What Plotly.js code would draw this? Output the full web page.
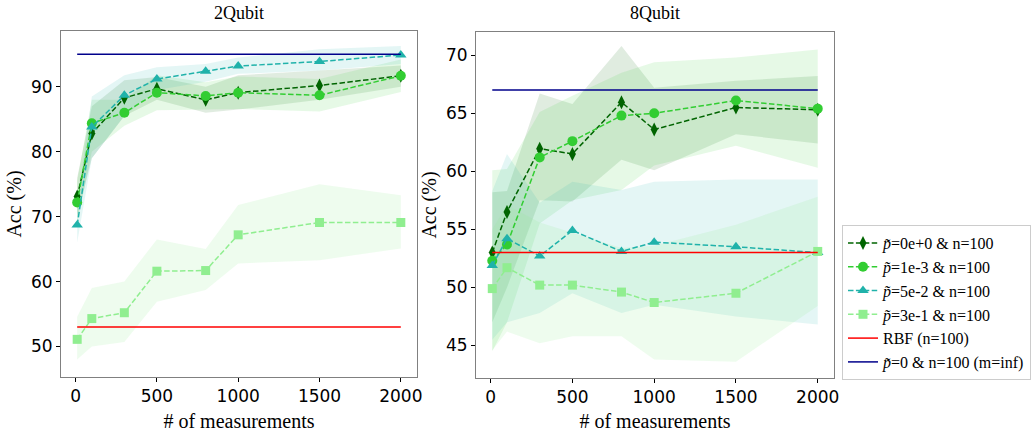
<!DOCTYPE html>
<html>
<head>
<meta charset="utf-8">
<script src="https://cdn.plot.ly/plotly-3.0.1.min.js"></script>
<style>html,body{margin:0;padding:0;background:#fff;}#chart{width:1035px;height:432px;}</style>
</head>
<body>
<div id="chart"></div>
<script>
// ---------- data ----------
const measurements = [10, 100, 300, 500, 800, 1000, 1500, 2000];
const seriesNames = ["<i>p̃</i>=0e+0 & n=100", "<i>p̃</i>=1e-3 & n=100", "<i>p̃</i>=5e-2 & n=100", "<i>p̃</i>=3e-1 & n=100"];
const rbfName = "RBF (n=100)";
const infName = "<i>p̃</i>=0 & n=100 (m=inf)";

// 2 Qubit
const q2_p0   = [73.1, 82.8, 88.3, 89.7, 88.0, 89.1, 90.2, 91.7];
const q2_p1e3 = [72.2, 84.4, 86.0, 89.1, 88.6, 89.1, 88.7, 91.7];
const q2_p5e2 = [68.7, 83.8, 88.7, 91.2, 92.4, 93.2, 93.9, 94.9];
const q2_p3e1 = [51.1, 54.3, 55.2, 61.6, 61.7, 67.2, 69.1, 69.1];
const q2_p0_lo   = [70.0, 79.0, 85.5, 88.0, 86.0, 86.5, 88.0, 90.0];
const q2_p0_hi   = [76.0, 87.0, 91.0, 91.5, 90.0, 91.8, 92.5, 93.3];
const q2_p1e3_lo = [69.0, 80.0, 84.0, 86.4, 86.5, 86.6, 86.2, 89.2];
const q2_p1e3_hi = [75.5, 88.0, 88.0, 91.8, 90.7, 91.6, 91.2, 94.2];
const q2_p5e2_lo = [66.0, 79.0, 85.5, 89.5, 90.8, 92.0, 92.5, 93.5];
const q2_p5e2_hi = [71.5, 88.5, 91.8, 93.0, 93.5, 94.5, 95.8, 96.3];
const q2_p3e1_lo = [48.0, 50.0, 50.7, 56.9, 58.7, 62.8, 63.3, 65.1];
const q2_p3e1_hi = [54.6, 59.0, 60.0, 66.5, 65.0, 71.8, 75.0, 73.3];
const q2_rbf = 53.0;
const q2_inf = 95.0;

// 8 Qubit
const q8_p0   = [53.0, 56.5, 61.95, 61.5, 65.95, 63.6, 65.5, 65.3];
const q8_p1e3 = [52.3, 53.7, 61.2, 62.6, 64.8, 65.0, 66.1, 65.4];
const q8_p5e2 = [51.9, 54.2, 52.7, 54.9, 53.1, 53.9, 53.5, 53.0];
const q8_p3e1 = [49.9, 51.7, 50.2, 50.2, 49.6, 48.7, 49.5, 53.1];
const q8_p0_lo   = [47.0, 50.0, 57.5, 57.4, 61.0, 60.1, 63.2, 62.4];
const q8_p0_hi   = [58.2, 58.3, 66.7, 65.8, 70.8, 67.2, 67.8, 68.2];
const q8_p1e3_lo = [44.5, 47.0, 55.5, 57.5, 58.4, 60.5, 62.2, 60.3];
const q8_p1e3_hi = [60.1, 60.2, 65.1, 66.5, 68.5, 69.4, 69.8, 70.5];
const q8_p5e2_lo = [45.5, 47.0, 47.8, 49.5, 47.8, 48.5, 47.5, 46.8];
const q8_p5e2_hi = [58.3, 61.5, 57.3, 59.1, 58.4, 59.1, 59.3, 59.3];
const q8_p3e1_lo = [44.6, 46.2, 45.2, 45.8, 45.8, 43.8, 43.6, 48.4];
const q8_p3e1_hi = [55.0, 57.1, 55.6, 54.7, 53.4, 53.6, 55.4, 57.8];
const q8_rbf = 53.0;
const q8_inf = 67.0;

const xTicks = [0, 500, 1000, 1500, 2000];
const yTicksLeft = [50, 60, 70, 80, 90];
const yTicksRight = [45, 50, 55, 60, 65, 70];

// ---------- styling ----------
const colors = ["#006400", "#32CD32", "#20B2AA", "#90EE90"];
const bandColors = ["rgba(0,100,0,0.12)", "rgba(50,205,50,0.12)", "rgba(32,178,170,0.12)", "rgba(144,238,144,0.15)"];
const symbols = ["diamond-tall", "circle", "triangle-up", "square"];
const msizes = [10, 10, 10, 9];

const traces = [];
function addPanel(xa, ya, means, los, his, rbf, inf, legend) {
  for (let i = 0; i < 4; i++) {
    traces.push({x: measurements, y: los[i], xaxis: xa, yaxis: ya, mode: "lines",
      line: {width: 0, color: "rgba(0,0,0,0)"}, showlegend: false, hoverinfo: "skip"});
    traces.push({x: measurements, y: his[i], xaxis: xa, yaxis: ya, mode: "lines",
      line: {width: 0, color: "rgba(0,0,0,0)"}, fill: "tonexty", fillcolor: bandColors[i],
      showlegend: false, hoverinfo: "skip"});
  }
  for (let i = 0; i < 4; i++) {
    traces.push({x: measurements, y: means[i], xaxis: xa, yaxis: ya, mode: "lines+markers",
      name: seriesNames[i], showlegend: legend,
      line: {color: colors[i], width: 1.5, dash: "5.5px,2.4px"},
      marker: {symbol: symbols[i], size: msizes[i], color: colors[i]}});
  }
  traces.push({x: [measurements[0], measurements[measurements.length-1]], y: [rbf, rbf], xaxis: xa, yaxis: ya,
    mode: "lines", name: rbfName, showlegend: legend, line: {color: "#ff0000", width: 1.5}});
  traces.push({x: [measurements[0], measurements[measurements.length-1]], y: [inf, inf], xaxis: xa, yaxis: ya,
    mode: "lines", name: infName, showlegend: legend, line: {color: "#00008B", width: 1.5}});
}
addPanel("x", "y", [q2_p0, q2_p1e3, q2_p5e2, q2_p3e1],
  [q2_p0_lo, q2_p1e3_lo, q2_p5e2_lo, q2_p3e1_lo], [q2_p0_hi, q2_p1e3_hi, q2_p5e2_hi, q2_p3e1_hi], q2_rbf, q2_inf, true);
addPanel("x2", "y2", [q8_p0, q8_p1e3, q8_p5e2, q8_p3e1],
  [q8_p0_lo, q8_p1e3_lo, q8_p5e2_lo, q8_p3e1_lo], [q8_p0_hi, q8_p1e3_hi, q8_p5e2_hi, q8_p3e1_hi], q8_rbf, q8_inf, false);

const tickFont = {family: "DejaVu Sans", size: 17, color: "#000"};
const serif = "Liberation Serif";
function xaxisDef(dom) {
  return {domain: dom, range: [-89.5, 2099.5], tickvals: xTicks, ticks: "outside", ticklen: 4, tickcolor: "#000",
    tickfont: tickFont, showgrid: false, zeroline: false, showline: true, linecolor: "#808080", linewidth: 1, mirror: true,
    title: {text: "# of measurements", font: {family: serif, size: 20, color: "#000"}, standoff: 10}};
}
function yaxisDef(dom, range, ticks, anchor) {
  return {domain: dom, range: range, tickvals: ticks, ticks: "outside", ticklen: 4, tickcolor: "#000", anchor: anchor,
    tickfont: tickFont, showgrid: false, zeroline: false, showline: true, linecolor: "#808080", linewidth: 1, mirror: true,
    title: {text: "Acc (%)", font: {family: serif, size: 20, color: "#000"}, standoff: 3}};
}

const layout = {
  width: 1035, height: 432,
  margin: {l: 0, r: 0, t: 0, b: 0},
  paper_bgcolor: "#fff", plot_bgcolor: "#fff",
  showlegend: true,
  xaxis: xaxisDef([61/1035, 417/1035]),
  yaxis: yaxisDef([55/432, 401/432], [45.3, 98.6], yTicksLeft, "x"),
  xaxis2: Object.assign(xaxisDef([476/1035, 834/1035]), {anchor: "y2"}),
  yaxis2: yaxisDef([54/432, 400/432], [42.2, 72.0], yTicksRight, "x2"),
  legend: {x: 842/1035, y: (432-225)/432, xanchor: "left", yanchor: "top", traceorder: "normal",
    font: {family: serif, size: 16, color: "#000"}, bgcolor: "#fff",
    bordercolor: "#cccccc", borderwidth: 1, tracegroupgap: 0},
  annotations: [
    {text: "2Qubit", x: 239/1035, y: (432-13)/432, xref: "paper", yref: "paper", showarrow: false,
      xanchor: "center", yanchor: "middle", font: {family: serif, size: 18, color: "#000"}},
    {text: "8Qubit", x: 655/1035, y: (432-13)/432, xref: "paper", yref: "paper", showarrow: false,
      xanchor: "center", yanchor: "middle", font: {family: serif, size: 18, color: "#000"}}
  ]
};

Plotly.newPlot("chart", traces, layout, {displayModeBar: false, staticPlot: true});
</script>
</body>
</html>
